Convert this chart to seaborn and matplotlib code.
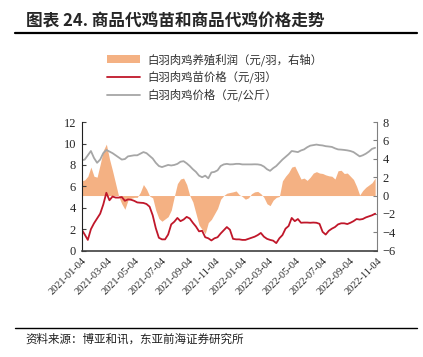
import numpy as np
import pandas as pd
import matplotlib
matplotlib.use("Agg")
import matplotlib.pyplot as plt
import matplotlib.dates as mdates
from matplotlib.lines import Line2D
from matplotlib.patches import Patch
import seaborn as sns

# weekly observations starting 2021-01-04
start_date = "2021-01-04"

# 白羽肉鸡价格 (元/公斤), left axis
chicken_price = [8.43, 8.5, 8.9, 9.3, 8.65, 8.2, 8.5, 9.1, 9.4, 9.25,
                 9.1, 8.9, 8.7, 8.5, 8.55, 8.8, 8.85, 8.9, 8.9, 9.05,
                 9.2, 9.1, 8.85, 8.6, 8.2, 7.9, 7.8, 7.9, 8.0, 7.95,
                 8.0, 8.1, 8.3, 8.35, 8.15, 7.9, 7.6, 7.35, 7.0, 6.85,
                 7.0, 6.75, 7.3, 7.35, 7.5, 7.9, 8.05, 8.1, 8.05, 8.06,
                 8.1, 8.1, 8.05, 8.05, 8.05, 8.05, 8.06, 8.05, 8.0, 7.85,
                 7.6, 7.45, 7.7, 7.9, 8.2, 8.5, 8.75, 9.0, 9.3, 9.25,
                 9.2, 9.35, 9.45, 9.65, 9.8, 9.85, 9.9, 9.85, 9.82, 9.75,
                 9.72, 9.68, 9.55, 9.45, 9.43, 9.4, 9.36, 9.3, 9.2, 9.0,
                 8.8, 8.9, 9.05, 9.25, 9.5, 9.6]

# 白羽肉鸡苗价格 (元/羽), left axis
chick_price = [1.98, 1.5, 1.0, 2.0, 2.55, 3.0, 3.45, 4.3, 5.4, 4.7,
               5.05, 4.95, 4.95, 5.0, 4.65, 4.78, 4.75, 4.65, 4.5, 4.47,
               4.45, 4.35, 4.1, 3.3, 2.1, 1.2, 1.05, 1.05, 1.5, 2.45,
               2.7, 3.05, 2.75, 2.9, 3.15, 3.0, 2.6, 2.25, 1.8, 1.85,
               1.25, 1.15, 0.95, 1.15, 1.25, 1.6, 1.9, 2.2, 1.95, 1.1,
               1.05, 1.05, 1.0, 1.0, 1.1, 1.2, 1.3, 1.45, 1.65, 1.3,
               1.1, 1.0, 0.93, 0.7, 1.15, 1.45, 2.05, 2.3, 3.05, 2.75,
               2.95, 2.6, 2.62, 2.62, 2.6, 2.62, 2.6, 2.5, 1.75, 1.5,
               1.85, 2.05, 2.2, 2.45, 2.55, 2.55, 2.48, 2.6, 2.75, 2.95,
               2.9, 2.95, 3.1, 3.2, 3.3, 3.45]

# 白羽肉鸡养殖利润 (元/羽), right axis
profit = [1.6, 1.7, 2.1, 3.1, 2.1, 2.0, 3.4, 4.9, 5.6, 4.0,
          2.7, 1.3, -0.1, -0.9, -1.5, -0.5, -0.3, -0.2, -0.2, 0.35,
          1.2, 0.7, -0.05, -0.25, -1.6, -2.5, -2.8, -2.55, -2.3, -1.6,
          -0.1, 1.3, 1.8, 1.9, 1.2, 0.0, -0.7, -1.95, -3.2, -3.7,
          -4.15, -2.95, -2.6, -2.0, -1.4, -0.4, 0.0, 0.25, 0.33, 0.4,
          0.5, 0.1, -0.1, -0.4, -0.25, 0.2, 0.4, 0.45, 0.2, -0.2,
          -0.9, -1.1, -0.5, -0.2, -0.1, 1.6, 2.1, 2.5, 3.1, 3.2,
          2.5, 1.8, 1.9, 1.65, 2.0, 2.45, 2.6, 2.45, 2.4, 2.25,
          2.15, 2.1, 1.8, 2.7, 2.75, 2.4, 2.45, 2.1, 1.75, 1.0,
          0.05, 0.55, 0.9, 1.15, 1.4, 1.9]

tick_dates = ["2021-01-04", "2021-03-04", "2021-05-04", "2021-07-04",
              "2021-09-04", "2021-11-04", "2022-01-04", "2022-03-04",
              "2022-05-04", "2022-07-04", "2022-09-04", "2022-11-04"]

labels = ["白羽肉鸡养殖利润（元/羽，右轴）", "白羽肉鸡苗价格（元/羽）", "白羽肉鸡价格（元/公斤）"]

dates = pd.date_range(start_date, periods=len(profit), freq="7D")
df = pd.DataFrame({"date": dates, "chicken": chicken_price,
                   "chick": chick_price, "profit": profit})

sns.set_style("white")
plt.rcParams["font.family"] = ["Liberation Serif", "Noto Sans CJK SC"]

fig = plt.figure(figsize=(4.23, 3.57), dpi=100)
ax = fig.add_axes([0.193, 0.298, 0.698, 0.360])
ax2 = ax.twinx()

orange = "#F4B183"
red = "#C0172A"
grey = "#A6A6A6"

ax2.fill_between(df["date"], 0, df["profit"], color=orange, linewidth=0)
sns.lineplot(data=df, x="date", y="chick", ax=ax, color=red, linewidth=1.3)
sns.lineplot(data=df, x="date", y="chicken", ax=ax, color=grey, linewidth=1.3)

ax.set_zorder(ax2.get_zorder() + 1)
ax.patch.set_visible(False)

ax.set_xlim(pd.Timestamp("2021-01-04"), pd.Timestamp("2022-11-04"))
ax.set_ylim(0, 12)
ax.set_yticks(range(0, 13, 2))
ax2.set_ylim(-6, 8)
ax2.set_yticks(range(-6, 9, 2))
ax.set_xlabel("")
ax.set_ylabel("")
ax2.set_ylabel("")

ax.set_xticks([pd.Timestamp(d) for d in tick_dates])
ax.xaxis.set_major_formatter(mdates.DateFormatter("%Y-%m-%d"))
plt.setp(ax.get_xticklabels(), rotation=45, ha="right", rotation_mode="anchor",
         fontsize=7.5)
ax.tick_params(axis="x", length=0, pad=4)
ax.tick_params(axis="y", direction="in", length=3, labelsize=9, pad=4,
               color="#404040")
ax2.tick_params(axis="y", direction="in", length=3, labelsize=9, pad=4,
                color="#808080")

ax.spines["top"].set_visible(False)
ax2.spines["top"].set_visible(False)
ax.spines["right"].set_visible(False)
ax2.spines["left"].set_visible(False)
ax2.spines["bottom"].set_visible(False)
ax.spines["left"].set_color("#202020")
ax.spines["bottom"].set_color("#404040")
ax.spines["bottom"].set_linewidth(1.2)
ax2.spines["right"].set_color("#808080")

cjk = ["Noto Sans CJK SC", "DejaVu Sans"]

# title and rules
fig.text(26 / 423, 1 - 21 / 357, "图表 24. 商品代鸡苗和商品代鸡价格走势",
         fontsize=12, fontweight="bold", va="center", ha="left", family=cjk)
fig.add_artist(Line2D([15 / 423, 417 / 423], [1 - 32.5 / 357, 1 - 32.5 / 357],
                      color="black", linewidth=1.6))
fig.add_artist(Line2D([15 / 423, 417 / 423], [1 - 327.5 / 357, 1 - 327.5 / 357],
                      color="black", linewidth=1.0))
fig.text(25 / 423, 1 - 339 / 357, "资料来源：博亚和讯，东亚前海证券研究所",
         fontsize=8.3, va="center", ha="left", color="#202020", family=cjk)

handles = [Patch(facecolor=orange, edgecolor="none"),
           Line2D([], [], color=red, linewidth=1.3),
           Line2D([], [], color=grey, linewidth=1.3)]
fig.legend(handles, labels, loc="upper left",
           bbox_to_anchor=(97 / 423, 1 - 43 / 357), frameon=False,
           prop={"family": cjk, "size": 8.2},
           handlelength=2.9, handleheight=0.7, handletextpad=0.6,
           labelspacing=0.45, labelcolor="#303030")

fig.savefig("out.png", dpi=100)
